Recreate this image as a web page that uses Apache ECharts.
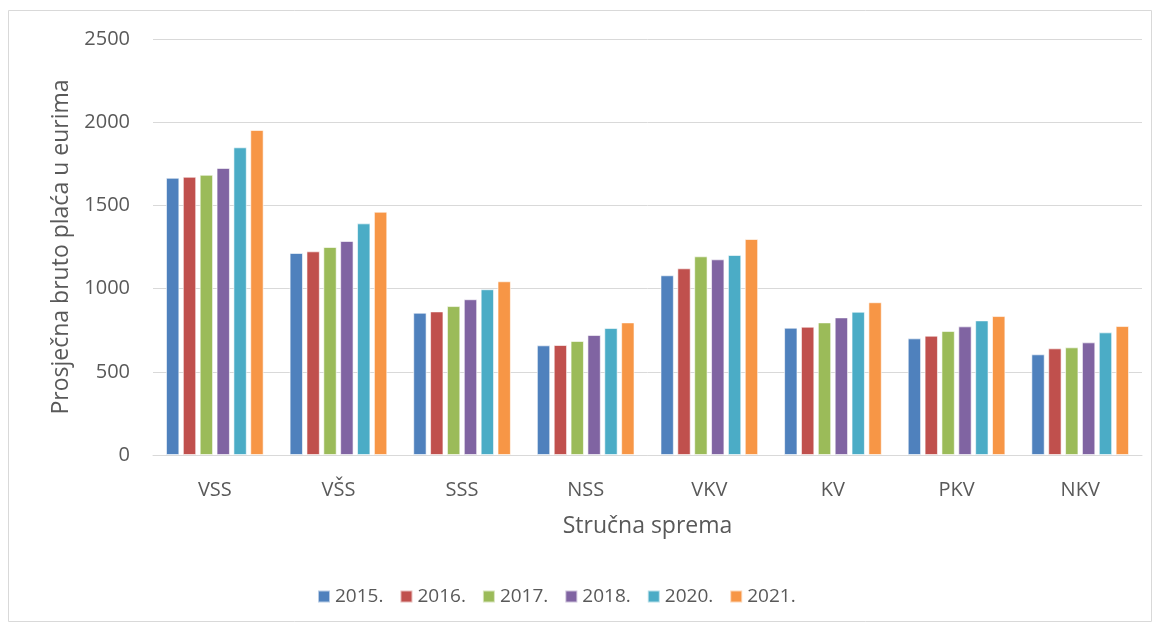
<!DOCTYPE html>
<html>
<head>
<meta charset="utf-8">
<script src="https://cdn.jsdelivr.net/npm/echarts@6/dist/echarts.min.js"></script>
<style>html,body{margin:0;padding:0;background:#fff}#c{width:1161px;height:628px}</style>
</head>
<body>
<div id="c"></div>
<script>
var categories = ['VSS', 'VŠS', 'SSS', 'NSS', 'VKV', 'KV', 'PKV', 'NKV'];
var years = ['2015.', '2016.', '2017.', '2018.', '2020.', '2021.'];
var v2015 = [1666, 1214, 855, 659, 1080, 765, 701, 605];
var v2016 = [1672, 1224, 863, 661, 1122, 771, 717, 641];
var v2017 = [1684, 1250, 895, 685, 1194, 797, 745, 647];
var v2018 = [1725, 1286, 936, 721, 1176, 827, 773, 677];
var v2020 = [1849, 1392, 996, 763, 1202, 861, 809, 737];
var v2021 = [1953, 1462, 1044, 797, 1298, 918, 835, 775];
var yTicks = [0, 500, 1000, 1500, 2000, 2500];
var colors = ['#4f81bd', '#c0504d', '#9bbb59', '#8064a2', '#4bacc6', '#f79646'];
var allValues = [v2015, v2016, v2017, v2018, v2020, v2021];
var FONT = 'Open Sans';
var TXT = '#595959';

var chart = echarts.init(document.getElementById('c'));
chart.setOption({
  animation: false,
  textStyle: { fontFamily: FONT },
  graphic: [{
    type: 'rect', shape: { x: 8.5, y: 10.5, width: 1143, height: 611 },
    style: { fill: 'none', stroke: '#d9d9d9', lineWidth: 1 }, silent: true, z: -1
  }],
  grid: { left: 153, right: 19, top: 39, bottom: 173 },
  legend: {
    data: years, bottom: 17, left: 312, icon: 'rect',
    itemWidth: 12, itemHeight: 12, itemGap: 16,
    textStyle: { fontFamily: FONT, fontSize: 19, color: TXT }
  },
  xAxis: {
    type: 'category', data: categories,
    name: 'Stručna sprema', nameLocation: 'middle', nameGap: 60,
    nameTextStyle: { fontFamily: FONT, fontSize: 23, color: TXT },
    axisLine: { lineStyle: { color: '#d9d9d9', width: 1 } },
    axisTick: { show: false },
    axisLabel: { fontFamily: FONT, fontSize: 20, color: TXT, margin: 25 }
  },
  yAxis: {
    type: 'value', min: yTicks[0], max: yTicks[yTicks.length - 1], interval: 500,
    name: 'Prosječna bruto plaća u eurima', nameLocation: 'middle', nameGap: 79,
    nameTextStyle: { fontFamily: FONT, fontSize: 23, color: TXT },
    axisLine: { show: false }, axisTick: { show: false },
    axisLabel: { fontFamily: FONT, fontSize: 20, color: TXT, margin: 23,
      formatter: function (v) { return String(v); } },
    splitLine: { lineStyle: { color: '#d9d9d9', width: 1 } }
  },
  series: years.map(function (y, i) {
    return {
      name: y, type: 'bar', data: allValues[i],
      barGap: '26%', barCategoryGap: '21%',
      itemStyle: { color: colors[i], borderColor: 'rgba(255,255,255,0.6)', borderWidth: 1 }
    };
  })
});
</script>
</body>
</html>
